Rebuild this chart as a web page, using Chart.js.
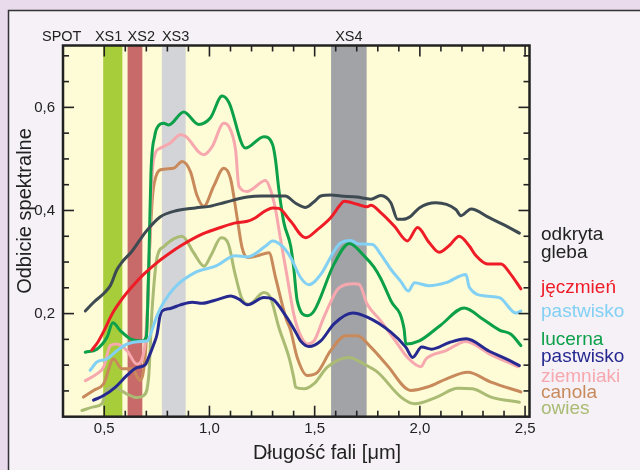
<!DOCTYPE html>
<html lang="pl">
<head>
<meta charset="utf-8">
<title>Odbicie spektralne</title>
<script src="https://cdn.jsdelivr.net/npm/chart.js@4.4.1/dist/chart.umd.min.js"></script>
<style>
  html, body { margin: 0; padding: 0; background: #e9dbec; }
  #wrap { width: 640px; height: 470px; }
</style>
</head>
<body>
<div id="wrap"><canvas id="chart" width="640" height="470"></canvas></div>
<script>
/* ─── SPOT bands (µm) ────────────────────────────────────────────────────── */
const bandNames = ['XS1', 'XS2', 'XS3', 'XS4'];
const bandFrom  = [0.495, 0.611, 0.774, 1.578];
const bandTo    = [0.586, 0.681, 0.887, 1.747];

/* ─── Axis ticks ─────────────────────────────────────────────────────────── */
const xTickValues = [0.5, 1.0, 1.5, 2.0, 2.5];
const yTickValues = [0.2, 0.4, 0.6];

/* ─── Spectra: wavelength (µm) / reflectance ─────────────────────────────── */
const soilWl   = [0.41, 0.45, 0.50, 0.53, 0.56, 0.585, 0.63, 0.70, 0.767, 0.846, 0.933, 1.00, 1.076, 1.18, 1.25, 1.314, 1.36, 1.41, 1.457, 1.50, 1.529, 1.58, 1.624, 1.70, 1.767, 1.814, 1.862, 1.894, 1.92, 1.957, 1.997, 2.076, 2.171, 2.195, 2.243, 2.33, 2.40, 2.473];
const soilRefl = [0.205, 0.222, 0.24, 0.255, 0.285, 0.30, 0.32, 0.36, 0.388, 0.40, 0.405, 0.408, 0.416, 0.426, 0.428, 0.428, 0.428, 0.414, 0.406, 0.418, 0.428, 0.43, 0.428, 0.426, 0.422, 0.429, 0.415, 0.383, 0.383, 0.389, 0.405, 0.415, 0.402, 0.39, 0.403, 0.386, 0.372, 0.356];

const barleyWl   = [0.441, 0.47, 0.497, 0.537, 0.584, 0.632, 0.687, 0.751, 0.814, 0.862, 0.965, 1.06, 1.124, 1.18, 1.219, 1.26, 1.30, 1.33, 1.386, 1.457, 1.513, 1.576, 1.62, 1.64, 1.703, 1.75, 1.767, 1.814, 1.878, 1.941, 1.989, 2.044, 2.092, 2.14, 2.187, 2.235, 2.267, 2.322, 2.386, 2.425, 2.48];
const barleyRefl = [0.129, 0.145, 0.165, 0.199, 0.228, 0.252, 0.276, 0.299, 0.318, 0.331, 0.354, 0.368, 0.376, 0.379, 0.386, 0.398, 0.405, 0.404, 0.379, 0.347, 0.363, 0.386, 0.41, 0.418, 0.412, 0.407, 0.41, 0.396, 0.37, 0.341, 0.367, 0.338, 0.319, 0.332, 0.35, 0.331, 0.312, 0.296, 0.296, 0.28, 0.248];

const pastureLtWl   = [0.433, 0.465, 0.513, 0.56, 0.608, 0.671, 0.706, 0.72, 0.75, 0.78, 0.838, 0.933, 1.029, 1.124, 1.18, 1.267, 1.30, 1.346, 1.386, 1.433, 1.473, 1.529, 1.592, 1.62, 1.671, 1.71, 1.775, 1.814, 1.862, 1.91, 1.945, 1.975, 2.044, 2.124, 2.219, 2.235, 2.314, 2.378, 2.457, 2.48];
const pastureLtRefl = [0.09, 0.106, 0.112, 0.128, 0.141, 0.146, 0.147, 0.16, 0.195, 0.22, 0.252, 0.28, 0.292, 0.312, 0.31, 0.331, 0.341, 0.331, 0.309, 0.27, 0.256, 0.276, 0.321, 0.336, 0.342, 0.335, 0.334, 0.315, 0.286, 0.262, 0.244, 0.26, 0.254, 0.26, 0.276, 0.251, 0.234, 0.231, 0.201, 0.205];

const lucerneWl   = [0.41, 0.465, 0.513, 0.541, 0.576, 0.624, 0.68, 0.70, 0.712, 0.722, 0.74, 0.755, 0.783, 0.806, 0.878, 0.949, 1.005, 1.06, 1.092, 1.171, 1.259, 1.30, 1.314, 1.33, 1.354, 1.386, 1.40, 1.417, 1.465, 1.497, 1.592, 1.665, 1.735, 1.782, 1.814, 1.862, 1.925, 1.933, 1.997, 2.10, 2.211, 2.30, 2.378, 2.433, 2.48];
const lucerneRefl = [0.125, 0.131, 0.154, 0.182, 0.167, 0.151, 0.147, 0.155, 0.30, 0.473, 0.545, 0.563, 0.569, 0.566, 0.591, 0.567, 0.58, 0.622, 0.61, 0.521, 0.543, 0.528, 0.498, 0.44, 0.376, 0.331, 0.29, 0.225, 0.196, 0.205, 0.296, 0.336, 0.312, 0.29, 0.268, 0.225, 0.17, 0.141, 0.147, 0.178, 0.211, 0.189, 0.168, 0.16, 0.138];

const pastureDkWl   = [0.449, 0.497, 0.552, 0.608, 0.655, 0.695, 0.711, 0.735, 0.751, 0.765, 0.775, 0.814, 0.862, 0.918, 0.965, 1.044, 1.10, 1.14, 1.18, 1.259, 1.30, 1.362, 1.41, 1.433, 1.473, 1.529, 1.592, 1.68, 1.75, 1.862, 1.933, 1.965, 2.009, 2.056, 2.14, 2.22, 2.33, 2.41, 2.473];
const pastureDkRefl = [0.032, 0.041, 0.057, 0.08, 0.095, 0.101, 0.115, 0.14, 0.16, 0.195, 0.205, 0.21, 0.217, 0.222, 0.22, 0.228, 0.234, 0.228, 0.217, 0.231, 0.228, 0.196, 0.164, 0.147, 0.136, 0.147, 0.18, 0.201, 0.193, 0.164, 0.135, 0.115, 0.135, 0.131, 0.144, 0.151, 0.127, 0.112, 0.099];

const potatoWl   = [0.41, 0.465, 0.497, 0.529, 0.56, 0.608, 0.655, 0.68, 0.695, 0.71, 0.722, 0.735, 0.767, 0.814, 0.862, 0.886, 0.973, 1.013, 1.068, 1.092, 1.124, 1.14, 1.18, 1.267, 1.29, 1.314, 1.338, 1.37, 1.40, 1.43, 1.465, 1.497, 1.544, 1.616, 1.687, 1.711, 1.75, 1.814, 1.894, 1.941, 2.005, 2.029, 2.124, 2.219, 2.33, 2.465];
const potatoRefl = [0.07, 0.083, 0.096, 0.138, 0.141, 0.128, 0.102, 0.112, 0.147, 0.25, 0.42, 0.50, 0.521, 0.531, 0.547, 0.544, 0.508, 0.524, 0.569, 0.563, 0.518, 0.447, 0.437, 0.458, 0.44, 0.402, 0.344, 0.27, 0.20, 0.16, 0.141, 0.147, 0.193, 0.25, 0.258, 0.257, 0.218, 0.186, 0.141, 0.115, 0.097, 0.112, 0.128, 0.146, 0.122, 0.097];

const canolaWl   = [0.401, 0.449, 0.497, 0.544, 0.584, 0.632, 0.671, 0.687, 0.70, 0.715, 0.73, 0.745, 0.767, 0.83, 0.87, 0.91, 0.94, 0.973, 1.02, 1.068, 1.10, 1.13, 1.155, 1.18, 1.227, 1.283, 1.314, 1.362, 1.386, 1.417, 1.465, 1.513, 1.576, 1.648, 1.703, 1.767, 1.846, 1.957, 2.04, 2.124, 2.227, 2.338, 2.48];
const canolaRefl = [0.038, 0.051, 0.064, 0.112, 0.093, 0.093, 0.07, 0.09, 0.15, 0.32, 0.43, 0.465, 0.479, 0.482, 0.495, 0.475, 0.43, 0.408, 0.447, 0.482, 0.462, 0.39, 0.328, 0.309, 0.312, 0.318, 0.27, 0.193, 0.167, 0.115, 0.08, 0.086, 0.128, 0.157, 0.157, 0.135, 0.099, 0.051, 0.058, 0.073, 0.086, 0.067, 0.048];

const oatsWl   = [0.394, 0.449, 0.489, 0.513, 0.544, 0.608, 0.655, 0.687, 0.711, 0.727, 0.751, 0.783, 0.83, 0.87, 0.925, 0.975, 1.01, 1.055, 1.09, 1.12, 1.155, 1.187, 1.259, 1.29, 1.33, 1.378, 1.40, 1.41, 1.449, 1.497, 1.56, 1.663, 1.735, 1.80, 1.91, 1.975, 2.08, 2.18, 2.25, 2.338, 2.473];
const oatsRefl = [0.012, 0.019, 0.025, 0.054, 0.057, 0.044, 0.037, 0.041, 0.077, 0.205, 0.309, 0.33, 0.345, 0.35, 0.318, 0.292, 0.315, 0.347, 0.335, 0.28, 0.228, 0.218, 0.241, 0.231, 0.173, 0.115, 0.077, 0.057, 0.054, 0.064, 0.096, 0.115, 0.102, 0.086, 0.038, 0.025, 0.038, 0.055, 0.054, 0.038, 0.028];

/* ─── Styling ────────────────────────────────────────────────────────────── */
const FONT = "'Liberation Sans', Arial, sans-serif";
const INK  = '#222222';
const bandColors = ['#a7cd3b', '#c86a69', '#d3d4d7', '#a2a3a7'];

const series = [
  { label: 'odkryta gleba', wl: soilWl,      refl: soilRefl,      color: '#3d4a52' },
  { label: 'jęczmień',      wl: barleyWl,    refl: barleyRefl,    color: '#ee1c26' },
  { label: 'pastwisko',     wl: pastureLtWl, refl: pastureLtRefl, color: '#82d0f4' },
  { label: 'lucerna',       wl: lucerneWl,   refl: lucerneRefl,   color: '#0ca04a' },
  { label: 'pastwisko',     wl: pastureDkWl, refl: pastureDkRefl, color: '#262a90' },
  { label: 'ziemniaki',     wl: potatoWl,    refl: potatoRefl,    color: '#f6a8ae' },
  { label: 'canola',        wl: canolaWl,    refl: canolaRefl,    color: '#c98a5b' },
  { label: 'owies',         wl: oatsWl,      refl: oatsRefl,      color: '#aabb73' },
];

// right-hand labels: text, colour, baseline (px)
const sideLabels = [
  ['odkryta',   INK,       240],
  ['gleba',     INK,       258],
  ['jęczmień',  '#ee1c26', 293],
  ['pastwisko', '#82d0f4', 317],
  ['lucerna',   '#0ca04a', 345],
  ['pastwisko', '#262a90', 362],
  ['ziemniaki', '#f6a8ae', 382],
  ['canola',    '#c98a5b', 398],
  ['owies',     '#aabb73', 414],
];

const fmt = v => v.toFixed(1).replace('.', ',');

/* ─── Frame, bands, box ticks and labels ─────────────────────────────────── */
const framePlugin = {
  id: 'frame',
  beforeDraw(chart) {
    const { ctx, chartArea: a } = chart;
    ctx.save();
    ctx.fillStyle = '#e9dbec';
    ctx.fillRect(0, 0, chart.width, chart.height);
    ctx.fillStyle = '#f5f1f7';
    ctx.fillRect(8.5, 10.5, chart.width, chart.height);
    ctx.strokeStyle = '#333';
    ctx.lineWidth = 1.5;
    ctx.beginPath();
    ctx.moveTo(8.5, chart.height);
    ctx.lineTo(8.5, 10.5);
    ctx.lineTo(chart.width, 10.5);
    ctx.stroke();
    ctx.fillStyle = '#fefbd7';
    ctx.fillRect(a.left, a.top, a.right - a.left, a.bottom - a.top);
    ctx.restore();
  },
  beforeDatasetsDraw(chart) {
    const { ctx, chartArea: a, scales: { x } } = chart;
    ctx.save();
    bandNames.forEach((_, i) => {
      const x0 = x.getPixelForValue(bandFrom[i]);
      const x1 = x.getPixelForValue(bandTo[i]);
      ctx.fillStyle = bandColors[i];
      ctx.fillRect(x0, a.top, x1 - x0, a.bottom - a.top);
    });
    ctx.restore();
  },
  afterDatasetsDraw(chart) {
    const { ctx, chartArea: a, scales: { x, y } } = chart;
    const seg = (x0, y0, x1, y1) => { ctx.beginPath(); ctx.moveTo(x0, y0); ctx.lineTo(x1, y1); ctx.stroke(); };
    ctx.save();
    ctx.strokeStyle = INK;
    ctx.lineWidth = 1.6;
    for (let k = 5; k <= 25; k++) {
      const px = x.getPixelForValue(k / 10);
      const len = k % 5 === 0 ? 11 : 6;
      seg(px, a.bottom, px, a.bottom - len);
      seg(px, a.top, px, a.top + len);
    }
    for (let k = 1; k <= 14; k++) {
      const py = y.getPixelForValue(k * 0.05);
      const len = k % 4 === 0 ? 11 : 6;
      seg(a.left, py, a.left + len, py);
      seg(a.right, py, a.right - len, py);
    }
    ctx.lineWidth = 2.5;
    ctx.strokeRect(a.left, a.top, a.right - a.left, a.bottom - a.top);
    ctx.restore();
  },
  afterDraw(chart) {
    const { ctx, scales: { x } } = chart;
    ctx.save();
    ctx.fillStyle = INK;
    ctx.textBaseline = 'alphabetic';

    // band names above the plot
    ctx.font = `14.5px ${FONT}`;
    ctx.textAlign = 'left';
    ctx.fillText('SPOT', 42, 41);
    bandNames.forEach((name, i) => {
      const x0 = x.getPixelForValue(bandFrom[i]);
      const x1 = x.getPixelForValue(bandTo[i]);
      if (i === 0) { ctx.textAlign = 'right';  ctx.fillText(name, x1, 41); }
      else if (i === 3) { ctx.textAlign = 'center'; ctx.fillText(name, (x0 + x1) / 2, 41); }
      else { ctx.textAlign = 'left'; ctx.fillText(name, x0, 41); }
    });

    // series names on the right
    ctx.font = `19px ${FONT}`;
    ctx.textAlign = 'left';
    sideLabels.forEach(([text, color, base]) => {
      ctx.fillStyle = color;
      ctx.fillText(text, 541, base);
    });

    // axis titles
    ctx.fillStyle = INK;
    ctx.font = `20px ${FONT}`;
    ctx.textAlign = 'center';
    ctx.fillText('Długość fali [μm]', 327, 459);
    ctx.translate(31, 211);
    ctx.rotate(-Math.PI / 2);
    ctx.fillText('Odbicie spektralne', 0, 0);
    ctx.restore();
  },
};

/* ─── Chart ──────────────────────────────────────────────────────────────── */
const toPoints = (xs, ys) => xs.map((v, i) => ({ x: v, y: ys[i] }));

new Chart(document.getElementById('chart'), {
  type: 'line',
  data: {
    datasets: series.map(s => ({
      label: s.label,
      data: toPoints(s.wl, s.refl),
      borderColor: s.color,
      borderWidth: 3,
      pointRadius: 0,
      fill: false,
      cubicInterpolationMode: 'monotone',
      borderCapStyle: 'round',
      borderJoinStyle: 'round',
    })),
  },
  options: {
    responsive: false,
    animation: false,
    events: [],
    layout: { padding: { top: 45.5, right: 110.5, left: 0, bottom: 0 } },
    plugins: { legend: { display: false }, tooltip: { enabled: false } },
    scales: {
      x: {
        type: 'linear',
        min: 0.304,
        max: 2.521,
        afterBuildTicks: s => { s.ticks = xTickValues.map(v => ({ value: v })); },
        afterFit: s => { s.height = 53.3; },
        grid: { display: false, drawTicks: false },
        border: { display: false },
        ticks: {
          callback: fmt,
          autoSkip: false,
          maxRotation: 0,
          padding: 3,
          color: INK,
          font: { family: FONT, size: 15 },
        },
      },
      y: {
        type: 'linear',
        min: 0,
        max: 0.72,
        afterBuildTicks: s => { s.ticks = yTickValues.map(v => ({ value: v })); },
        afterFit: s => { s.width = 63; },
        grid: { display: false, drawTicks: false },
        border: { display: false },
        ticks: {
          callback: fmt,
          padding: 8,
          color: INK,
          font: { family: FONT, size: 15 },
        },
      },
    },
  },
  plugins: [framePlugin],
});
</script>
</body>
</html>
